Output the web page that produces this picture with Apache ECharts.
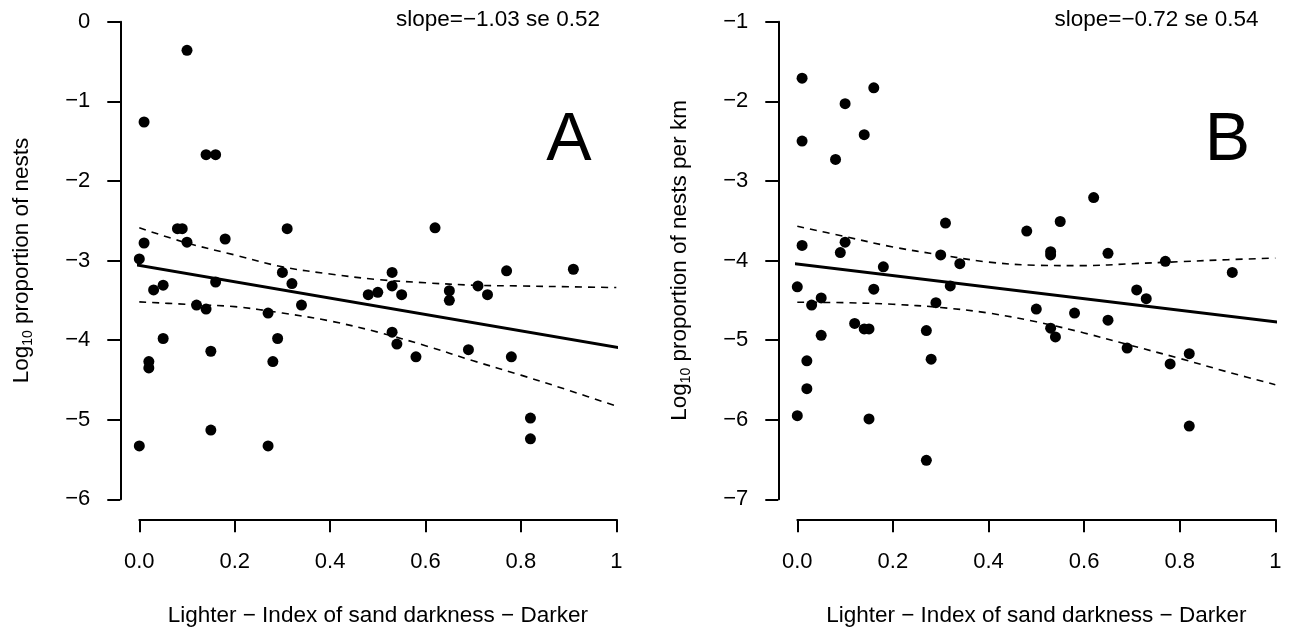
<!DOCTYPE html>
<html>
<head>
<meta charset="utf-8">
<script src="https://cdn.jsdelivr.net/npm/echarts@6/dist/echarts.min.js"></script>
<style>
html,body{margin:0;padding:0;background:#fff;}
#chart{width:1298px;height:627px;}
</style>
</head>
<body>
<div id="chart"></div>
<script>
// ---- Panel A data: sand darkness index vs log10 proportion of nests ----
const sandA  = [0.10,0.01,0.14,0.16,0.08,0.09,0.10,0.01,0.18,0.00,0.03,0.05,0.16,0.12,0.14,0.27,0.34,0.30,0.32,0.31,0.05,0.02,0.02,0.15,0.29,0.28,0.15,0.00,0.27,0.62,0.53,0.53,0.48,0.50,0.55,0.65,0.65,0.71,0.73,0.77,0.91,0.53,0.54,0.58,0.69,0.78,0.82,0.82];
const nestsA = [-0.36,-1.26,-1.67,-1.67,-2.60,-2.60,-2.77,-2.78,-2.73,-2.98,-3.37,-3.31,-3.27,-3.56,-3.61,-3.66,-3.56,-3.15,-3.29,-2.60,-3.98,-4.27,-4.35,-4.14,-3.98,-4.27,-5.13,-5.33,-5.33,-2.59,-3.15,-3.32,-3.43,-3.40,-3.43,-3.38,-3.50,-3.32,-3.43,-3.13,-3.11,-3.90,-4.05,-4.21,-4.12,-4.21,-4.98,-5.24];

// ---- Panel B data: sand darkness index vs log10 proportion of nests per km ----
const sandB  = [0.01,0.16,0.10,0.01,0.14,0.08,0.01,0.10,0.09,0.31,0.30,0.34,0.18,0.00,0.16,0.32,0.05,0.03,0.29,0.05,0.12,0.14,0.15,0.27,0.28,0.02,0.02,0.00,0.15,0.27,0.62,0.55,0.48,0.53,0.53,0.65,0.77,0.91,0.71,0.73,0.50,0.58,0.65,0.53,0.54,0.69,0.78,0.82,0.82];
const nestsB = [-1.71,-1.83,-2.03,-2.50,-2.42,-2.73,-3.81,-3.77,-3.90,-3.53,-3.93,-4.04,-4.08,-4.33,-4.36,-4.32,-4.47,-4.56,-4.53,-4.94,-4.79,-4.86,-4.86,-4.88,-5.24,-5.26,-5.61,-5.95,-5.99,-6.51,-3.21,-3.51,-3.63,-3.89,-3.93,-3.91,-4.01,-4.15,-4.37,-4.48,-4.61,-4.66,-4.75,-4.85,-4.96,-5.10,-5.30,-5.17,-6.08];

// ---- Regression lines (end points) ----
const fitX  = [-0.04, 1.04];
const fitA  = [-3.02, -4.13];
const fitB  = [-4.015, -4.80];

// ---- Confidence bands ----
const bandX  = [0, 0.1, 0.2, 0.3, 0.4, 0.5, 0.6, 0.7, 0.8, 0.9, 1.0];
const upperA = [-2.59,-2.78,-2.93,-3.08,-3.17,-3.24,-3.28,-3.31,-3.32,-3.33,-3.34];
const lowerA = [-3.52,-3.55,-3.58,-3.66,-3.76,-3.90,-4.07,-4.26,-4.44,-4.63,-4.83];
const upperB = [-3.57,-3.70,-3.83,-3.93,-4.02,-4.06,-4.065,-4.04,-4.015,-3.99,-3.97];
const lowerB = [-4.525,-4.53,-4.55,-4.59,-4.66,-4.77,-4.91,-5.07,-5.23,-5.40,-5.56];

// ---- Tick labels ----
const xTickLabels  = ['0.0','0.2','0.4','0.6','0.8','1'];
const yTickLabelsA = ['\u22126','\u22125','\u22124','\u22123','\u22122','\u22121','0'];
const yTickLabelsB = ['\u22127','\u22126','\u22125','\u22124','\u22123','\u22122','\u22121'];

const slopeTextA = 'slope=\u22121.03 se 0.52';
const slopeTextB = 'slope=\u22120.72 se 0.54';
const xTitle = 'Lighter \u2212 Index of sand darkness \u2212 Darker';

const FONT = '"Liberation Sans", Arial, Helvetica, sans-serif';
const INK = '#000';

const zip = (xs, ys) => xs.map((x, i) => [x, ys[i]]);

const chart = echarts.init(document.getElementById('chart'), null, {renderer: 'canvas'});

function xAxisDef(gi) {
  return {
    type: 'value', gridIndex: gi, min: 0, max: 1, interval: 0.2,
    offset: 20,
    axisLine: {show: true, onZero: false, lineStyle: {color: INK, width: 2}},
    axisTick: {show: true, length: 13, lineStyle: {color: INK, width: 2}},
    splitLine: {show: false},
    axisLabel: {
      color: INK, fontFamily: FONT, fontSize: 22, margin: 32,
      formatter: v => xTickLabels[Math.round(v / 0.2)]
    },
    name: xTitle, nameLocation: 'middle', nameGap: 85,
    nameTextStyle: {color: INK, fontFamily: FONT, fontSize: 22.5}
  };
}

function yAxisDef(gi, min, labels, nameRich) {
  return {
    type: 'value', gridIndex: gi, min: min, max: min + 6, interval: 1,
    offset: 19,
    axisLine: {show: true, onZero: false, lineStyle: {color: INK, width: 2}},
    axisTick: {show: true, length: 13, lineStyle: {color: INK, width: 2}},
    splitLine: {show: false},
    axisLabel: {
      color: INK, fontFamily: FONT, fontSize: 22, margin: 30,
      formatter: v => labels[Math.round(v - min)]
    },
    name: nameRich, nameLocation: 'middle', nameGap: 87, nameRotate: 90,
    nameTextStyle: {
      color: INK, fontFamily: FONT, fontSize: 22.5,
      rich: {
        a: {fontFamily: FONT, fontSize: 22.5, color: INK},
        sub: {fontFamily: FONT, fontSize: 14, color: INK, verticalAlign: 'bottom', padding: [0, 0, -2, 0]}
      }
    }
  };
}

function scatter(gi, xs, ys) {
  return {
    type: 'scatter', xAxisIndex: gi, yAxisIndex: gi,
    data: zip(xs, ys), symbol: 'circle', symbolSize: 11,
    itemStyle: {color: INK, opacity: 1}, clip: false, silent: true, z: 3
  };
}

function line(gi, xs, ys, dashed) {
  return {
    type: 'line', xAxisIndex: gi, yAxisIndex: gi,
    data: zip(xs, ys), showSymbol: false, clip: false, silent: true,
    smooth: dashed ? 0.35 : false,
    lineStyle: dashed ? {color: INK, width: 1.6, type: [7, 6]} : {color: INK, width: 3},
    z: 2
  };
}

const option = {
  animation: false,
  backgroundColor: '#fff',
  textStyle: {fontFamily: FONT},
  grid: [
    {left: 139.3, top: 21.7, width: 477, height: 477.6, outerBoundsMode: 'none', containLabel: false},
    {left: 797.3, top: 21.7, width: 478, height: 477.6, outerBoundsMode: 'none', containLabel: false}
  ],
  xAxis: [xAxisDef(0), xAxisDef(1)],
  yAxis: [
    yAxisDef(0, -6, yTickLabelsA, '{a|Log}{sub|10}{a| proportion of nests}'),
    yAxisDef(1, -7, yTickLabelsB, '{a|Log}{sub|10}{a| proportion of nests per km}')
  ],
  series: [
    scatter(0, sandA, nestsA),
    line(0, fitX, fitA, false),
    line(0, bandX, upperA, true),
    line(0, bandX, lowerA, true),
    scatter(1, sandB, nestsB),
    line(1, fitX, fitB, false),
    line(1, bandX, upperB, true),
    line(1, bandX, lowerB, true)
  ],
  graphic: [
    {type: 'text', x: 396, y: 20, style: {text: slopeTextA, font: '22.5px ' + FONT, fill: INK, textAlign: 'left', textVerticalAlign: 'middle'}},
    {type: 'text', x: 1054.5, y: 20, style: {text: slopeTextB, font: '22.5px ' + FONT, fill: INK, textAlign: 'left', textVerticalAlign: 'middle'}},
    {type: 'text', x: 569, y: 141, style: {text: 'A', font: '68px ' + FONT, fill: INK, textAlign: 'center', textVerticalAlign: 'middle'}},
    {type: 'text', x: 1227.5, y: 141, style: {text: 'B', font: '68px ' + FONT, fill: INK, textAlign: 'center', textVerticalAlign: 'middle'}}
  ]
};

chart.setOption(option);
</script>
</body>
</html>
